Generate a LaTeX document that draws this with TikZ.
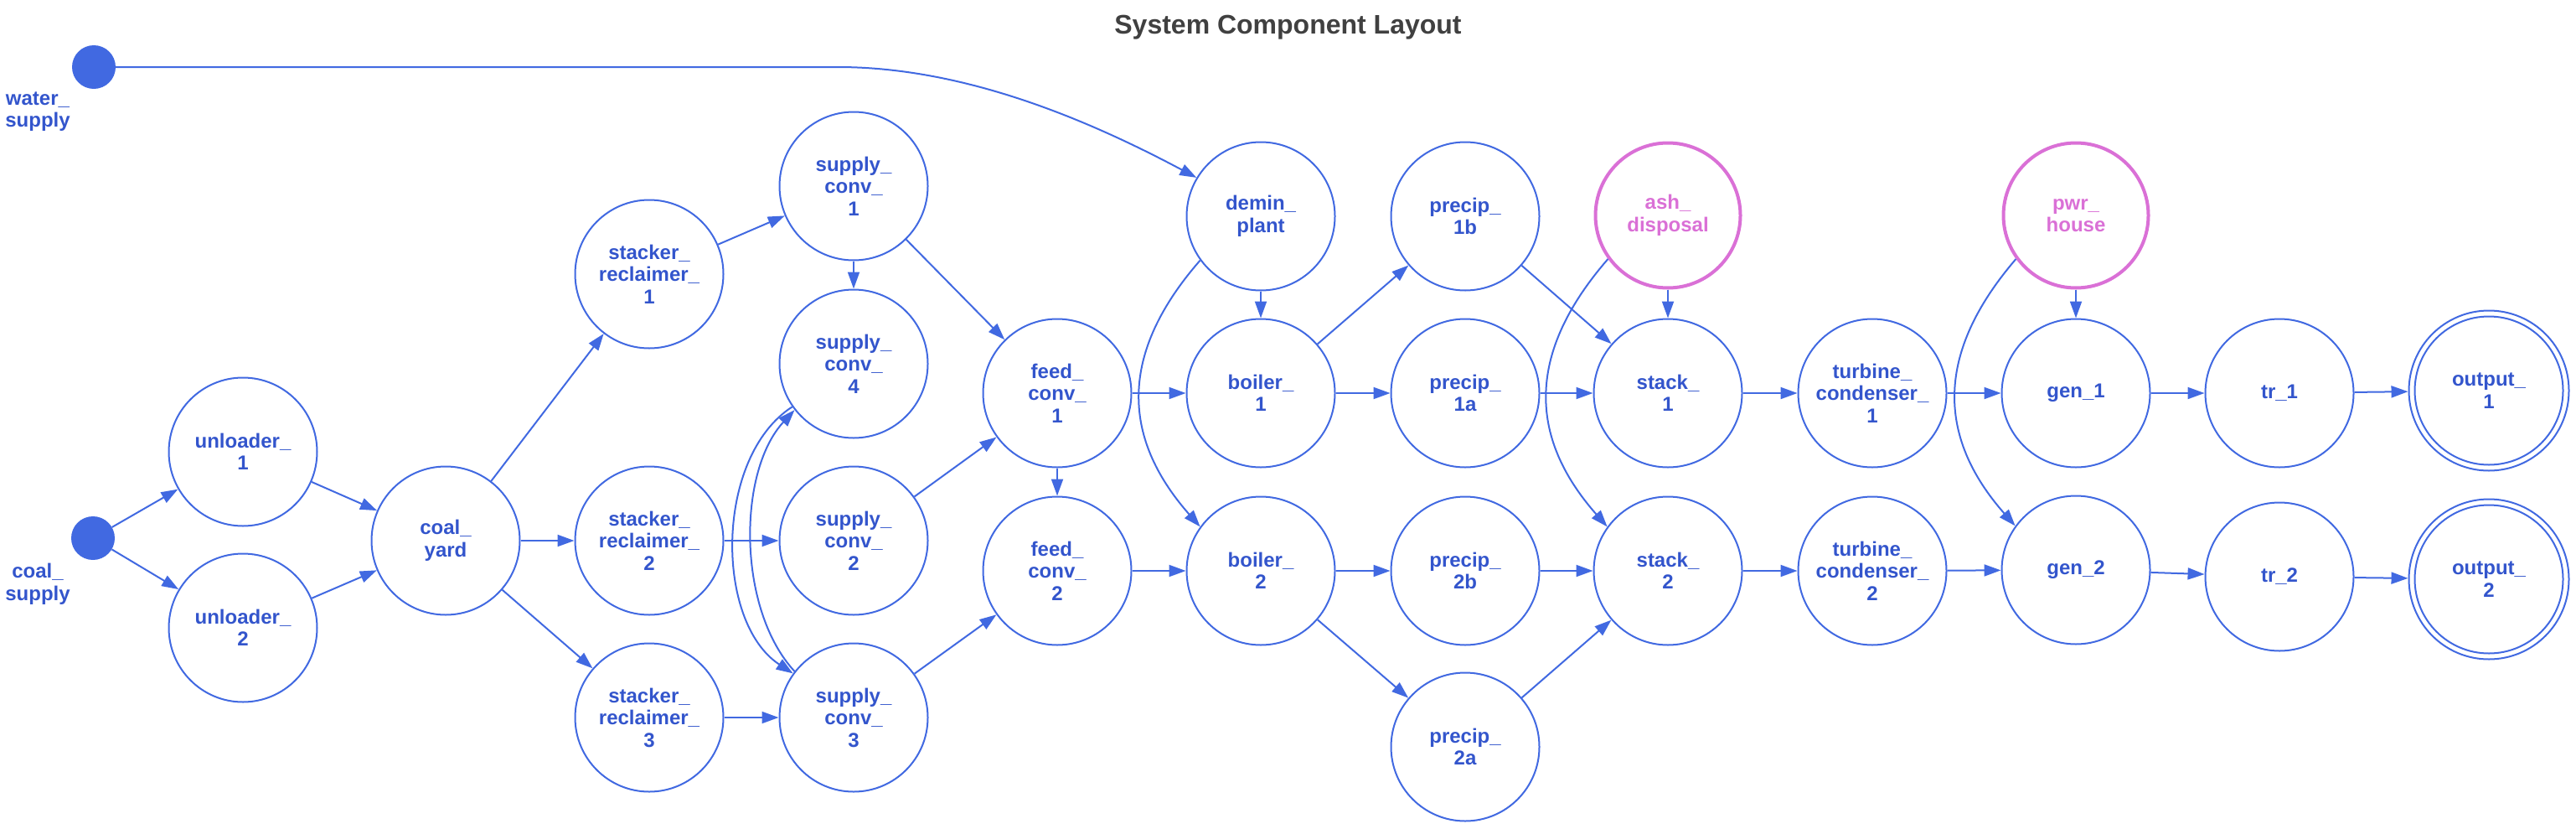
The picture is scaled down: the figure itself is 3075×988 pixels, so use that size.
\documentclass[tikz,border=0pt]{standalone}
\usepackage{fontspec}
\setmainfont{Liberation Sans}
\usetikzlibrary{arrows.meta}
\definecolor{edgeblue}{RGB}{65,105,225}
\definecolor{textblue}{RGB}{51,85,204}
\definecolor{orchidc}{RGB}{218,112,214}
\definecolor{titlegray}{RGB}{64,64,64}
\newcommand\nodefnt{\fontsize{24}{26.5}\selectfont\bfseries}
\newcommand\titlefnt{\fontsize{32}{36}\selectfont\bfseries}
\tikzset{
  nd/.style={circle, draw=edgeblue, line width=2pt, minimum size=177pt, inner sep=0pt,
    text=textblue, font=\nodefnt, align=center},
  pk/.style={nd, draw=orchidc, line width=4pt, text=orchidc, minimum size=173pt},
  outnd/.style={nd, minimum size=191pt},
  srcdot/.style={circle, fill=edgeblue, draw=none, minimum size=52pt, inner sep=0pt},
  lbl/.style={text=textblue, font=\nodefnt, align=center, inner sep=0pt},
  edge/.style={draw=edgeblue, line width=2pt, -{Triangle[length=20pt,width=14pt]}}
}
\begin{document}
\begin{tikzpicture}[x=1pt,y=-1pt]
\useasboundingbox (0,0) rectangle (3075,988);
\node[font=\titlefnt, text=titlegray, anchor=base, inner sep=0pt] (title) at (1537.5,40) {System Component Layout};

% sources
\node[srcdot] (ws) at (112,80) {};
\node[lbl] (wsl) at (45,133) {water\_\\supply};
\node[srcdot] (cs) at (111,642) {};
\node[lbl] (csl) at (45,697) {coal\_\\supply};

% nodes
\node[nd] (u1) at (290,539) {unloader\_\\1};
\node[nd] (u2) at (290,749) {unloader\_\\2};
\node[nd] (cy) at (532,645) {coal\_\\yard};
\node[nd] (sr1) at (775,327) {stacker\_\\reclaimer\_\\1};
\node[nd] (sr2) at (775,645) {stacker\_\\reclaimer\_\\2};
\node[nd] (sr3) at (775,856) {stacker\_\\reclaimer\_\\3};
\node[nd] (sc1) at (1019,222) {supply\_\\conv\_\\1};
\node[nd] (sc4) at (1019,434) {supply\_\\conv\_\\4};
\node[nd] (sc2) at (1019,645) {supply\_\\conv\_\\2};
\node[nd] (sc3) at (1019,856) {supply\_\\conv\_\\3};
\node[nd] (fc1) at (1262,469) {feed\_\\conv\_\\1};
\node[nd] (fc2) at (1262,681) {feed\_\\conv\_\\2};
\node[nd] (dp) at (1505,258) {demin\_\\plant};
\node[nd] (b1) at (1505,469) {boiler\_\\1};
\node[nd] (b2) at (1505,681) {boiler\_\\2};
\node[nd] (p1b) at (1749,258) {precip\_\\1b};
\node[nd] (p1a) at (1749,469) {precip\_\\1a};
\node[nd] (p2b) at (1749,681) {precip\_\\2b};
\node[nd] (p2a) at (1749,891) {precip\_\\2a};
\node[pk] (ash) at (1991,257) {ash\_\\disposal};
\node[nd] (st1) at (1991,469) {stack\_\\1};
\node[nd] (st2) at (1991,681) {stack\_\\2};
\node[nd] (tc1) at (2235,469) {turbine\_\\condenser\_\\1};
\node[nd] (tc2) at (2235,681) {turbine\_\\condenser\_\\2};
\node[pk] (pwr) at (2478,257) {pwr\_\\house};
\node[nd] (g1) at (2478,469) {gen\_1};
\node[nd] (g2) at (2478,680) {gen\_2};
\node[nd] (t1) at (2721,469) {tr\_1};
\node[nd] (t2) at (2721,688) {tr\_2};
\node[outnd] (o1) at (2971,466) {output\_\\1};
\node[outnd] (o2) at (2971,691) {output\_\\2};
\draw[edgeblue, line width=2pt] (o1.center) circle (88.5);
\draw[edgeblue, line width=2pt] (o2.center) circle (88.5);

% edges
\coordinate (wbend) at (1000,80);
\draw[edge] (ws) -- (wbend) .. controls (1150,80) and (1297,142) .. (dp.149);
\draw[edge] (cs) -- (u1);
\draw[edge] (cs) -- (u2);
\draw[edge] (u1) -- (cy);
\draw[edge] (u2) -- (cy);
\draw[edge] (cy) -- (sr1);
\draw[edge] (cy) -- (sr2);
\draw[edge] (cy) -- (sr3);
\draw[edge] (sr1) -- (sc1);
\draw[edge] (sr2) -- (sc2);
\draw[edge] (sr3) -- (sc3);
\draw[edge] (sc1) -- (sc4);
\draw[edge] (sc1) -- (fc1);
\draw[edge] (sc4.215) .. controls (853,545) and (853,742) .. (sc3.144);
\draw[edge] (sc3.142) .. controls (880,727) and (880,563) .. (sc4.218);
\draw[edge] (sc2) -- (fc1);
\draw[edge] (sc3) -- (fc2);
\draw[edge] (fc1) -- (b1);
\draw[edge] (fc1) -- (fc2);
\draw[edge] (fc2) -- (b2);
\draw[edge] (dp) -- (b1);
\draw[edge] (dp.216) .. controls (1337,420) and (1337,520) .. (b2.144);
\draw[edge] (b1) -- (p1b);
\draw[edge] (b1) -- (p1a);
\draw[edge] (b2) -- (p2b);
\draw[edge] (b2) -- (p2a);
\draw[edge] (p1b) -- (st1);
\draw[edge] (p1a) -- (st1);
\draw[edge] (p2b) -- (st2);
\draw[edge] (p2a) -- (st2);
\draw[edge] (ash) -- (st1);
\draw[edge] (ash.216) .. controls (1823,420) and (1823,520) .. (st2.144);
\draw[edge] (st1) -- (tc1);
\draw[edge] (st2) -- (tc2);
\draw[edge] (tc1) -- (g1);
\draw[edge] (tc2) -- (g2);
\draw[edge] (pwr) -- (g1);
\draw[edge] (pwr.216) .. controls (2311,420) and (2311,520) .. (g2.144);
\draw[edge] (g1) -- (t1);
\draw[edge] (g2) -- (t2);
\draw[edge] (t1) -- (o1);
\draw[edge] (t2) -- (o2);
\end{tikzpicture}
\end{document}
